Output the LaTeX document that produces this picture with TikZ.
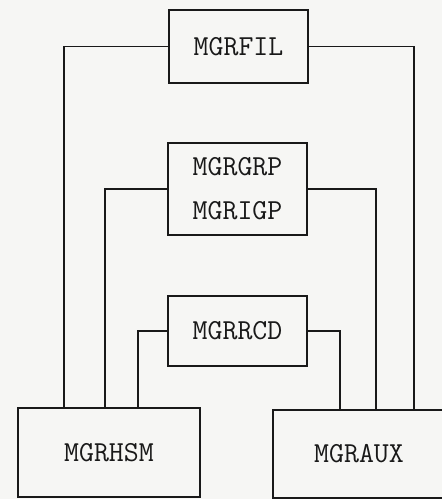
\documentclass[tikz,border=0pt]{standalone}
\definecolor{paper}{RGB}{246,246,244}
\definecolor{ink}{RGB}{25,25,25}
\begin{document}
\begin{tikzpicture}[x=1pt,y=-1pt,
  modbox/.style={draw=ink, line width=1.3pt, inner sep=0pt,
    font=\ttfamily\fontsize{29}{44}\selectfont, text=ink, align=center},
  link/.style={draw=ink, line width=1.2pt}]
\fill[paper] (0,0) rectangle (442,499);
\useasboundingbox (0,0) rectangle (442,499);
\node[modbox, minimum width=139pt, minimum height=73pt] (fil) at (238.5,46.5) {MGRFIL};
\node[modbox, minimum width=139pt, minimum height=92pt] (grp) at (237.5,189) {MGRGRP\\MGRIGP};
\node[modbox, minimum width=139pt, minimum height=70pt] (rcd) at (237.5,331) {MGRRCD};
\node[modbox, minimum width=182pt, minimum height=89pt] (hsm) at (109,452.5) {MGRHSM};
\node[modbox, minimum width=172pt, minimum height=88pt] (aux) at (359,454) {MGRAUX};
\coordinate (xa) at (64,0);
\coordinate (xb) at (105,0);
\coordinate (xc) at (138,0);
\coordinate (xd) at (340,0);
\coordinate (xe) at (376,0);
\coordinate (xf) at (414,0);
\draw[link] (fil.west) -| (xa |- hsm.north);
\draw[link] (fil.east) -| (xf |- aux.north);
\draw[link] (grp.west) -| (xb |- hsm.north);
\draw[link] (grp.east) -| (xe |- aux.north);
\draw[link] (rcd.west) -| (xc |- hsm.north);
\draw[link] (rcd.east) -| (xd |- aux.north);
\end{tikzpicture}
\end{document}
